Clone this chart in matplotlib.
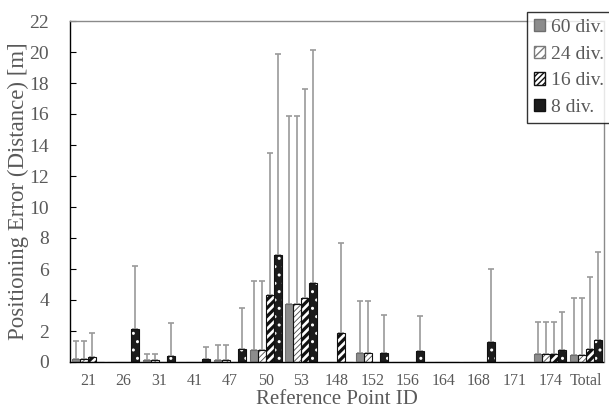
import numpy as np
import matplotlib
matplotlib.use("Agg")
import matplotlib.pyplot as plt
from matplotlib.patches import Patch

# data (mean error and top of the error bar)
point_ids = ["21", "26", "31", "41", "47", "50", "53", "148", "152", "156",
             "164", "168", "171", "174", "Total"]
series = ["60 div.", "24 div.", "16 div.", "8 div."]

mean_60 = [0.2, 0, 0.1, 0, 0.1, 0.75, 3.75, 0, 0.55, 0, 0, 0, 0, 0.5, 0.47]
top_60 = [1.35, 0, 0.5, 0, 1.1, 5.25, 15.9, 0, 3.95, 0, 0, 0, 0, 2.55, 4.1]
mean_24 = [0.2, 0, 0.1, 0, 0.1, 0.75, 3.75, 0, 0.55, 0, 0, 0, 0, 0.5, 0.47]
top_24 = [1.35, 0, 0.5, 0, 1.1, 5.25, 15.9, 0, 3.95, 0, 0, 0, 0, 2.55, 4.1]
mean_16 = [0.3, 0, 0, 0, 0, 4.35, 4.15, 1.85, 0, 0, 0, 0, 0, 0.5, 0.82]
top_16 = [1.85, 0, 0, 0, 0, 13.5, 17.6, 7.7, 0, 0, 0, 0, 0, 2.6, 5.5]
mean_8 = [0, 2.1, 0.38, 0.2, 0.85, 6.9, 5.1, 0, 0.55, 0.72, 0, 1.3, 0, 0.75, 1.4]
top_8 = [0, 6.2, 2.5, 1.0, 3.5, 19.9, 20.15, 0, 3.05, 3.0, 0, 6.0, 0, 3.2, 7.1]

means = [mean_60, mean_24, mean_16, mean_8]
tops = [top_60, top_24, top_16, top_8]

plt.rcParams['font.family'] = ['Liberation Serif', 'DejaVu Serif']
TEXT = '#595959'

fig = plt.figure(figsize=(6.09, 4.12), dpi=100)
ax = fig.add_axes([70 / 609, 50 / 412, 533.5 / 609, 341 / 412])

x = np.arange(len(point_ids))
w = 0.225
# fill, hatch colour, hatch, hatch line width
styles = [
    ('#8c8c8c', None, None, 1.0),
    ('white', '#4a4a4a', '//////', 0.6),
    ('white', '#111111', '////', 2.3),
    ('#1c1c1c', 'white', '..', 1.0),
]

for i, (m, t) in enumerate(zip(means, tops)):
    m = np.array(m)
    t = np.array(t)
    pos = x + (i - 1.5) * w
    fc, hc, hatch, hlw = styles[i]
    ax.bar(pos, m, w, facecolor=fc, linewidth=0, zorder=2)
    if hatch:
        with plt.rc_context({'hatch.linewidth': hlw}):
            ax.bar(pos, m, w, facecolor='none', edgecolor=hc, hatch=hatch,
                   linewidth=0, zorder=3)
    edge = '#6e6e6e' if i == 0 else '#111111'
    ax.bar(pos, m, w, facecolor='none', edgecolor=edge, linewidth=0.8,
           zorder=4)
    has = t > 0
    ax.errorbar(pos[has], m[has], yerr=[np.zeros(has.sum()), (t - m)[has]],
                fmt='none', ecolor='#9a9a9a', elinewidth=1.2, capsize=2.2,
                capthick=1.2, zorder=1)

ax.set_xlim(-0.5, len(point_ids) - 0.5)
ax.set_ylim(0, 22)
ax.set_yticks(np.arange(0, 23, 2))
ax.set_xticks(x)
ax.set_xticklabels(point_ids)
ax.tick_params(axis='x', length=0, pad=8, labelsize=11.5, labelcolor=TEXT)
ax.tick_params(axis='y', direction='in', length=4, width=0.8, pad=15,
               labelsize=14, labelcolor=TEXT)

ax.spines['left'].set_color('black')
ax.spines['bottom'].set_color('black')
ax.spines['top'].set_color('#8a8a8a')
ax.spines['right'].set_color('#8a8a8a')
for s in ax.spines.values():
    s.set_linewidth(1.0)

ax.set_xlabel("Reference Point ID", fontsize=15, color=TEXT, labelpad=1)
ax.set_ylabel("Positioning Error (Distance) [m]", fontsize=16.5, color=TEXT,
              labelpad=0)

handles = [
    Patch(facecolor='#8c8c8c', edgecolor='#6e6e6e'),
    Patch(facecolor='white', edgecolor='#7a7a7a', hatch='////'),
    Patch(facecolor='white', edgecolor='#111111', hatch='//////'),
    Patch(facecolor='#1c1c1c', edgecolor='#111111'),
]
leg = fig.legend(handles, series, loc='upper left',
                 bbox_to_anchor=(527 / 609, 1 - 12 / 412), fontsize=14,
                 frameon=True, fancybox=False, edgecolor='black',
                 handlelength=0.6, handleheight=0.6, handletextpad=0.3,
                 labelspacing=0.5, borderpad=0.35, borderaxespad=0)
leg.get_frame().set_linewidth(1.0)
for txt in leg.get_texts():
    txt.set_color(TEXT)

fig.savefig("out.png", dpi=100)
